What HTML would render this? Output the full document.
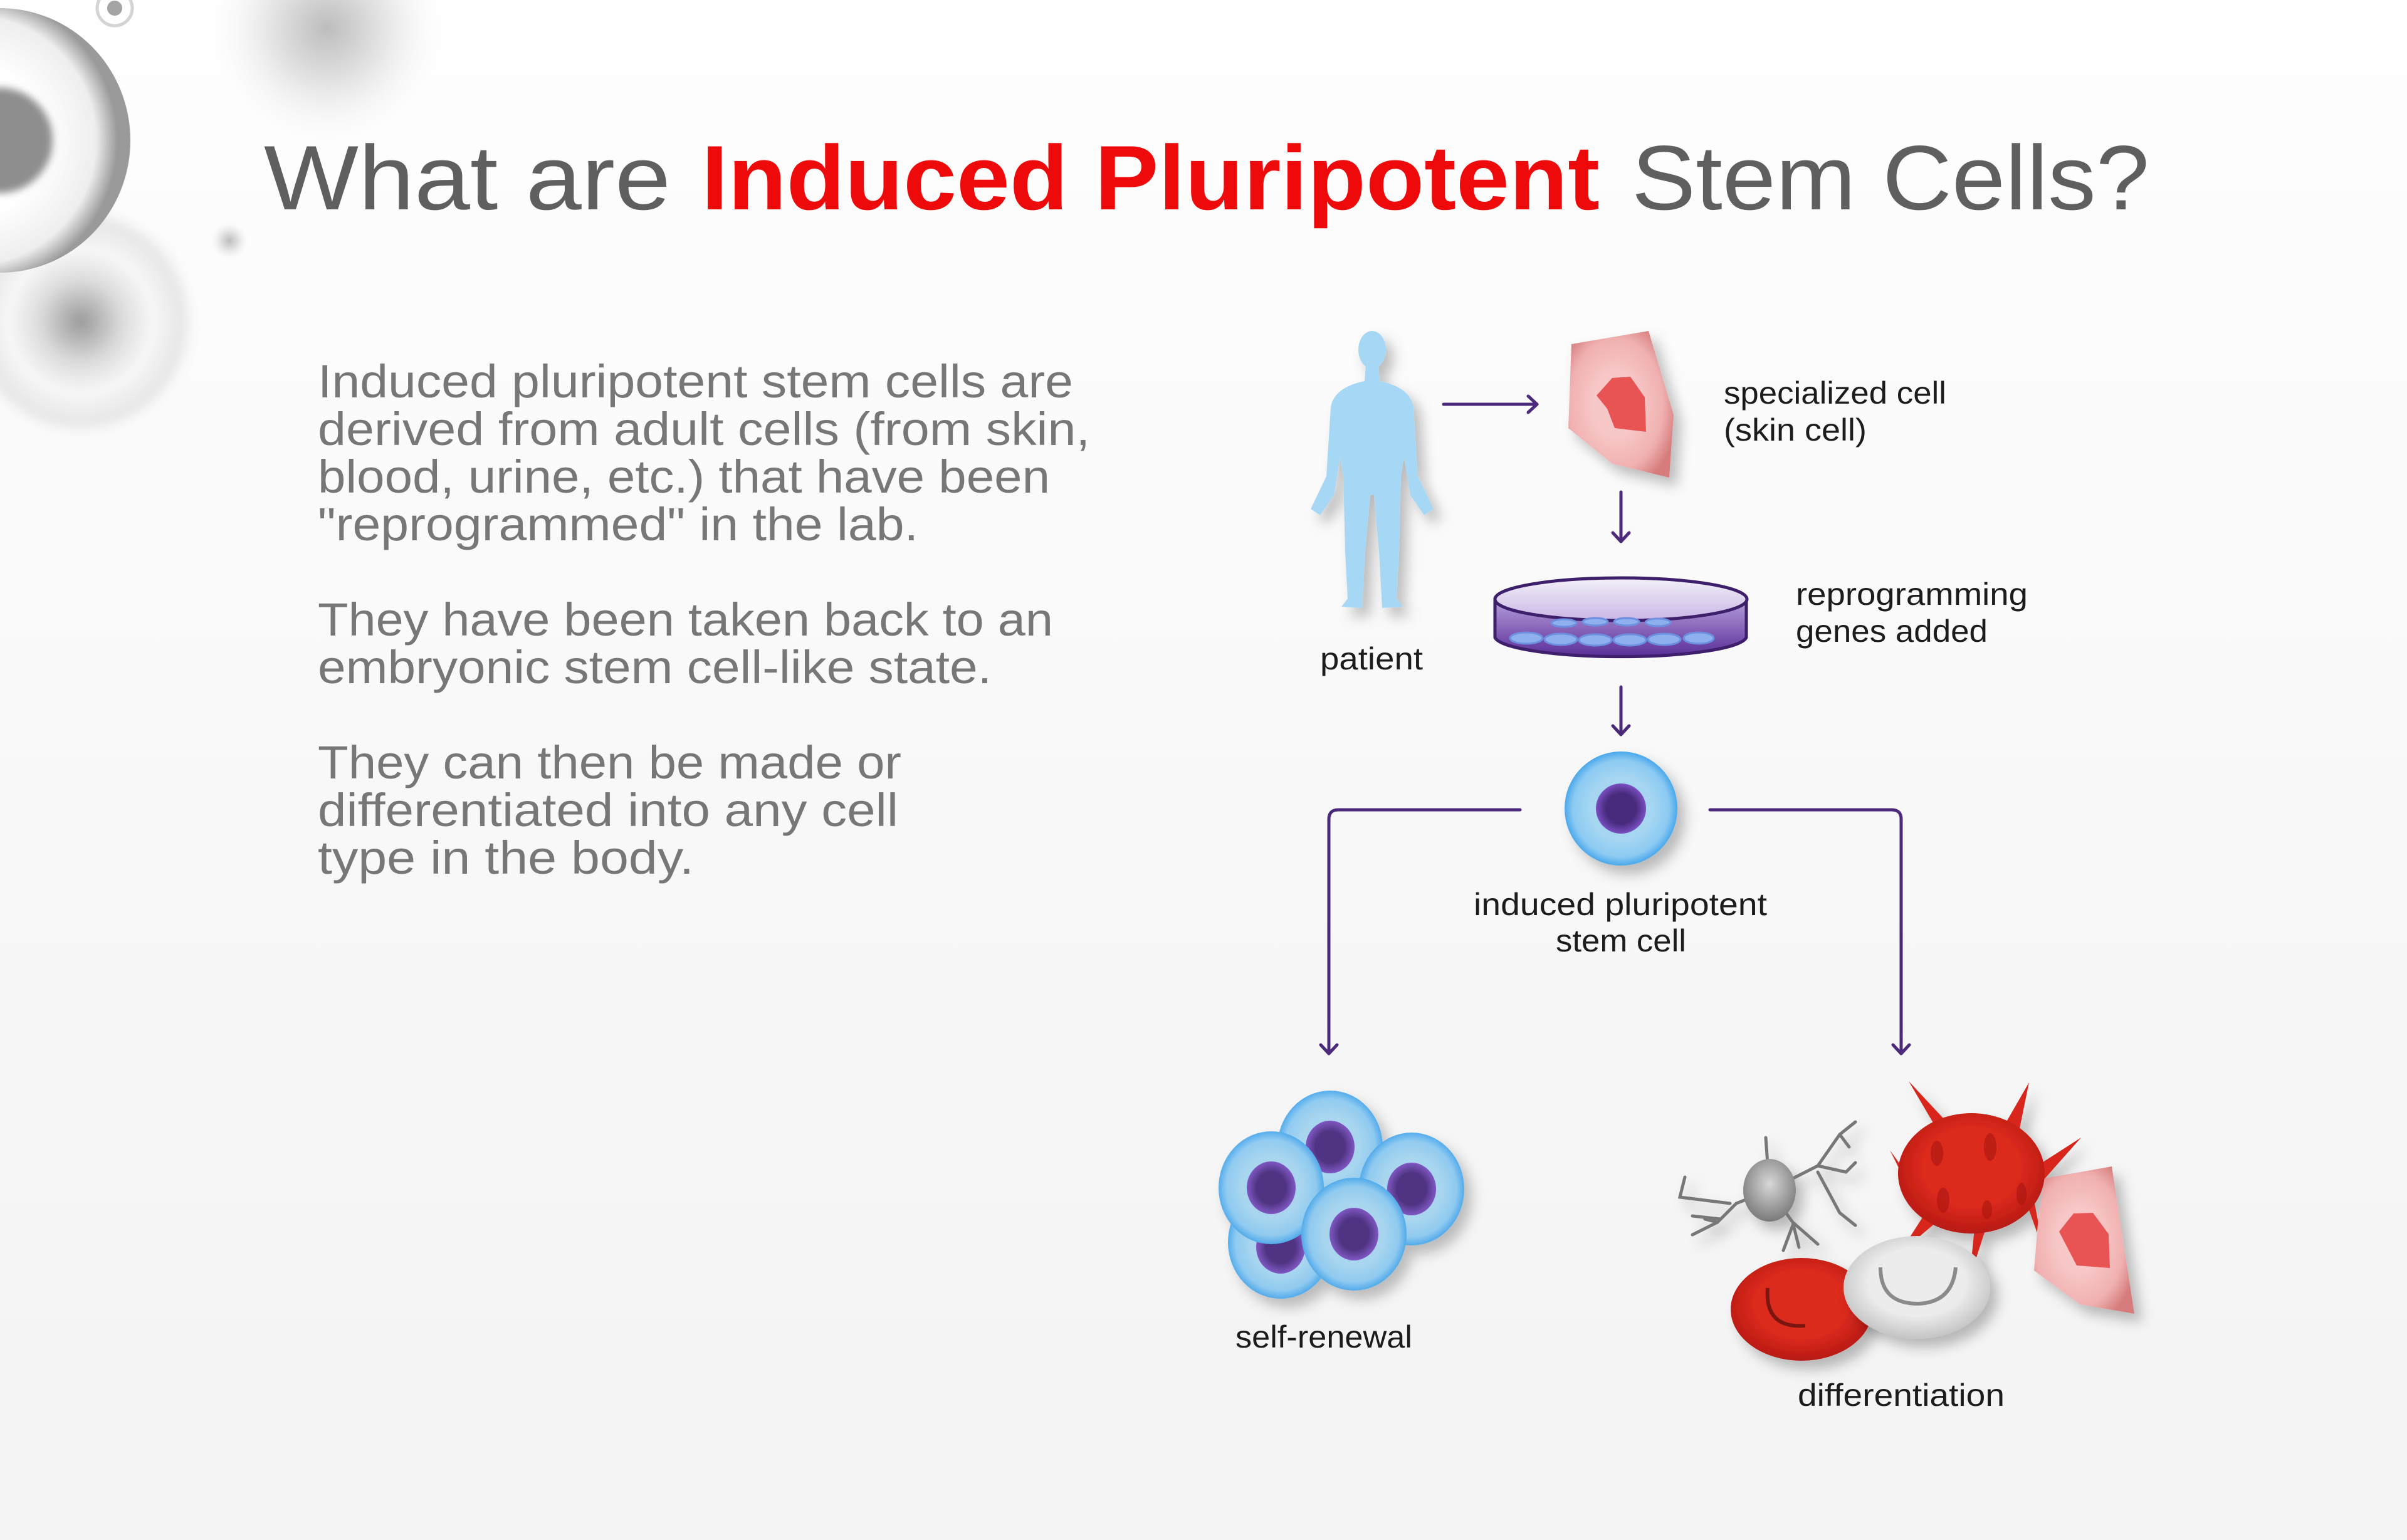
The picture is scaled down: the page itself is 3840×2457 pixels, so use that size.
<!DOCTYPE html>
<html><head><meta charset="utf-8"><style>
html,body{margin:0;padding:0;}
body{width:3840px;height:2457px;overflow:hidden;}
svg{display:block;}
text{font-family:"Liberation Sans",sans-serif;}
</style></head><body>
<svg width="3840" height="2457" viewBox="0 0 3840 2457" xmlns="http://www.w3.org/2000/svg">
<defs>
<linearGradient id="bg" x1="0" y1="0" x2="0" y2="1"><stop offset="0" stop-color="#fefefe"/><stop offset="1" stop-color="#f3f3f3"/></linearGradient>
<filter id="blur20" x="-50%" y="-50%" width="200%" height="200%"><feGaussianBlur stdDeviation="20"/></filter>
<filter id="blur6" x="-50%" y="-50%" width="200%" height="200%"><feGaussianBlur stdDeviation="6"/></filter>
<filter id="sh" x="-30%" y="-30%" width="170%" height="170%"><feDropShadow dx="12" dy="14" stdDeviation="10" flood-color="#000" flood-opacity="0.25"/></filter>
<radialGradient id="bigcell" cx="0.4" cy="0.5" r="0.55"><stop offset="0.5" stop-color="#ffffff"/><stop offset="0.85" stop-color="#eeeeee"/><stop offset="1" stop-color="#9a9a9a"/></radialGradient>
<radialGradient id="blurcell" cx="0.5" cy="0.5" r="0.5"><stop offset="0" stop-color="#9a9a9a"/><stop offset="0.35" stop-color="#dcdcdc"/><stop offset="0.6" stop-color="#f7f7f7"/><stop offset="0.85" stop-color="#e6e6e6"/><stop offset="1" stop-color="#fafafa" stop-opacity="0"/></radialGradient>
<radialGradient id="spot" cx="0.5" cy="0.5" r="0.5"><stop offset="0" stop-color="#bdbdbd"/><stop offset="0.5" stop-color="#e4e4e4"/><stop offset="1" stop-color="#f5f5f5" stop-opacity="0"/></radialGradient>
<radialGradient id="skin" cx="0.45" cy="0.5" r="0.6"><stop offset="0.35" stop-color="#f8c8c8"/><stop offset="0.75" stop-color="#f0b0b0"/><stop offset="1" stop-color="#d67c7c"/></radialGradient>
<radialGradient id="blue" cx="0.5" cy="0.5" r="0.5"><stop offset="0.55" stop-color="#a6d6f2"/><stop offset="0.85" stop-color="#8ccaf2"/><stop offset="1" stop-color="#4aa8ec"/></radialGradient>
<radialGradient id="nuc" cx="0.5" cy="0.5" r="0.5"><stop offset="0.6" stop-color="#472a7c"/><stop offset="1" stop-color="#7a4fc2"/></radialGradient>
<radialGradient id="red" cx="0.5" cy="0.45" r="0.55"><stop offset="0.6" stop-color="#dc2a1e"/><stop offset="1" stop-color="#b81912"/></radialGradient>
<radialGradient id="white" cx="0.5" cy="0.45" r="0.55"><stop offset="0.6" stop-color="#ececec"/><stop offset="1" stop-color="#c4c4c4"/></radialGradient>
<radialGradient id="gray" cx="0.5" cy="0.4" r="0.6"><stop offset="0" stop-color="#d8d8d8"/><stop offset="1" stop-color="#7a7a7a"/></radialGradient>
<linearGradient id="dishtop" x1="0" y1="0" x2="0" y2="1"><stop offset="0" stop-color="#f3f0f8"/><stop offset="1" stop-color="#c9b6e6"/></linearGradient>
<linearGradient id="dishbot" x1="0" y1="0" x2="0" y2="1"><stop offset="0" stop-color="#b7a0dc"/><stop offset="1" stop-color="#5a2d98"/></linearGradient>
</defs>
<rect width="3840" height="2457" fill="url(#bg)"/>
<circle cx="129" cy="513" r="190" fill="url(#blurcell)" filter="url(#blur6)"/>
<circle cx="522" cy="45" r="180" fill="url(#spot)"/>
<circle cx="366" cy="384" r="30" fill="url(#spot)"/>
<ellipse cx="0" cy="224" rx="208" ry="211" fill="url(#bigcell)"/>
<circle cx="0" cy="224" r="84" fill="#8e8e8e" filter="url(#blur6)"/>
<circle cx="183" cy="13" r="28" fill="none" stroke="#d4d4d4" stroke-width="5"/>
<circle cx="183" cy="13" r="12" fill="#a4a4a4"/>
<text y="334" font-size="146" fill="#5f5f5f"><tspan x="421" textLength="649" lengthAdjust="spacingAndGlyphs">What are</tspan></text>
<text y="334" font-size="146" font-weight="bold" fill="#ee0a0a" x="1119" textLength="1433" lengthAdjust="spacingAndGlyphs">Induced Pluripotent</text>
<text y="334" font-size="146" fill="#5f5f5f" x="2603" textLength="826" lengthAdjust="spacingAndGlyphs">Stem Cells?</text>
<g font-size="74" fill="#777777">
<text x="507" y="634" textLength="1205" lengthAdjust="spacingAndGlyphs">Induced pluripotent stem cells are</text>
<text x="507" y="710" textLength="1232" lengthAdjust="spacingAndGlyphs">derived from adult cells (from skin,</text>
<text x="507" y="786" textLength="1168" lengthAdjust="spacingAndGlyphs">blood, urine, etc.) that have been</text>
<text x="507" y="862" textLength="958" lengthAdjust="spacingAndGlyphs">"reprogrammed" in the lab.</text>
<text x="507" y="1014" textLength="1173" lengthAdjust="spacingAndGlyphs">They have been taken back to an</text>
<text x="507" y="1090" textLength="1075" lengthAdjust="spacingAndGlyphs">embryonic stem cell-like state.</text>
<text x="507" y="1242" textLength="931" lengthAdjust="spacingAndGlyphs">They can then be made or</text>
<text x="507" y="1318" textLength="926" lengthAdjust="spacingAndGlyphs">differentiated into any cell</text>
<text x="507" y="1394" textLength="600" lengthAdjust="spacingAndGlyphs">type in the body.</text>
</g>
<g font-size="50" fill="#1c1c1c">
<text x="2750" y="644" textLength="355" lengthAdjust="spacingAndGlyphs">specialized cell</text>
<text x="2750" y="703" textLength="228" lengthAdjust="spacingAndGlyphs">(skin cell)</text>
<text x="2865" y="965" textLength="370" lengthAdjust="spacingAndGlyphs">reprogramming</text>
<text x="2865" y="1024" textLength="306" lengthAdjust="spacingAndGlyphs">genes added</text>
<text x="2106" y="1068" textLength="164" lengthAdjust="spacingAndGlyphs">patient</text>
<text x="2351" y="1460" textLength="468" lengthAdjust="spacingAndGlyphs">induced pluripotent</text>
<text x="2482" y="1518" textLength="208" lengthAdjust="spacingAndGlyphs">stem cell</text>
<text x="1971" y="2150" textLength="282" lengthAdjust="spacingAndGlyphs">self-renewal</text>
<text x="2868" y="2243" textLength="330" lengthAdjust="spacingAndGlyphs">differentiation</text>
</g>
<g stroke="#4b2a7b" stroke-width="5" fill="none" stroke-linecap="round" stroke-linejoin="round">
<line x1="2303" y1="645" x2="2452" y2="645"/><polyline points="2438,632 2452,645 2438,658"/>
<line x1="2586" y1="785" x2="2586" y2="864"/><polyline points="2573,850 2586,864 2599,850"/>
<line x1="2586" y1="1096" x2="2586" y2="1172"/><polyline points="2573,1158 2586,1172 2599,1158"/>
<path d="M2425,1292 H2135 Q2120,1292 2120,1307 V1681"/><polyline points="2107,1667 2120,1681 2133,1667"/>
<path d="M2728,1292 H3018 Q3033,1292 3033,1307 V1681"/><polyline points="3020,1667 3033,1681 3046,1667"/>
</g>
<g fill="#a6d8f5" filter="url(#sh)">
<ellipse cx="2189" cy="558" rx="22" ry="30"/>
<path d="M2179,582 L2199,582 L2201,608 Q2250,618 2255,650 L2262,760 L2287,812 L2272,822 L2250,790 L2240,730 L2235,760 L2232,880 L2228,955 L2238,968 L2205,970 L2200,880 L2192,790 L2186,790 L2178,880 L2173,970 L2140,968 L2150,955 L2146,880 L2143,760 L2138,730 L2128,790 L2106,822 L2091,812 L2116,760 L2123,650 Q2128,618 2177,608 Z"/>
</g>
<g filter="url(#sh)">
<polygon points="2507,549 2630,528 2670,662 2663,762 2572,740 2502,683" fill="url(#skin)"/>
</g>
<polygon points="2547,631 2572,603 2601,601 2624,634 2626,689 2576,683 2564,652" fill="#e85454"/>
<g stroke="#3d1f6b" stroke-width="5">
<path d="M2385,956 V1017 A201,33 0 0 0 2786,1017 V956 Z" fill="url(#dishbot)"/>
<ellipse cx="2586" cy="956" rx="201" ry="34" fill="url(#dishtop)"/>
</g>
<g fill="#8fb0ee" stroke="#6d8fe0" stroke-width="3">
<ellipse cx="2435" cy="1018" rx="26" ry="9"/><ellipse cx="2490" cy="1020" rx="26" ry="9"/><ellipse cx="2545" cy="1021" rx="26" ry="9"/><ellipse cx="2600" cy="1021" rx="26" ry="9"/><ellipse cx="2655" cy="1020" rx="26" ry="9"/><ellipse cx="2710" cy="1018" rx="24" ry="9"/>
<ellipse cx="2495" cy="994" rx="20" ry="6"/><ellipse cx="2545" cy="992" rx="20" ry="6"/><ellipse cx="2595" cy="992" rx="20" ry="6"/><ellipse cx="2645" cy="993" rx="20" ry="6"/>
</g>
<ellipse cx="2586" cy="1290" rx="90" ry="91" fill="url(#blue)" filter="url(#sh)"/>
<circle cx="2586" cy="1290" r="40" fill="url(#nuc)"/>
<g filter="url(#sh)">
<g opacity="0.93">
<ellipse cx="2122" cy="1830" rx="84" ry="90" fill="url(#blue)"/><ellipse cx="2122" cy="1830" rx="39" ry="42" fill="url(#nuc)"/>
<ellipse cx="2043" cy="1982" rx="84" ry="90" fill="url(#blue)"/><ellipse cx="2043" cy="1990" rx="39" ry="42" fill="url(#nuc)"/>
<ellipse cx="2252" cy="1897" rx="84" ry="90" fill="url(#blue)"/><ellipse cx="2252" cy="1897" rx="39" ry="42" fill="url(#nuc)"/>
<ellipse cx="2028" cy="1895" rx="84" ry="90" fill="url(#blue)"/><ellipse cx="2028" cy="1895" rx="39" ry="42" fill="url(#nuc)"/>
<ellipse cx="2160" cy="1969" rx="84" ry="90" fill="url(#blue)"/><ellipse cx="2160" cy="1969" rx="39" ry="42" fill="url(#nuc)"/>
</g>
</g>
<g filter="url(#sh)">
<g stroke="#777" stroke-width="5" fill="none" stroke-linecap="round">
<path d="M2823,1899 L2817,1815 M2823,1899 L2900,1860 L2935,1810 L2960,1790 M2935,1810 L2950,1830 M2900,1860 L2945,1870 L2960,1855 M2900,1870 L2935,1935 L2960,1955 M2823,1899 L2770,1920 L2740,1950 L2720,1945 M2745,1945 L2700,1940 M2740,1950 L2700,1970 M2760,1920 L2680,1910 L2688,1878 M2823,1899 L2860,1950 L2870,1990 M2860,1950 L2900,1985 M2860,1955 L2845,1995"/>
</g>
<ellipse cx="2823" cy="1899" rx="42" ry="50" fill="url(#gray)"/>
</g>
<g filter="url(#sh)" fill="#d8251b">
<polygon points="3195,1800 3237,1727 3220,1810"/>
<polygon points="3095,1810 3045,1725 3115,1800"/>
<polygon points="3250,1860 3320,1815 3258,1885"/>
<polygon points="3040,1870 3015,1835 3045,1895"/>
<polygon points="3075,1930 3030,2000 3095,1945"/>
<polygon points="3150,1960 3142,2040 3168,1960"/>
<polygon points="3235,1925 3260,1995 3245,1915"/>
<ellipse cx="3145" cy="1872" rx="117" ry="96" fill="url(#red)"/>
</g>
<g fill="#a8160f" opacity="0.6">
<ellipse cx="3090" cy="1840" rx="10" ry="20"/><ellipse cx="3175" cy="1830" rx="10" ry="22"/><ellipse cx="3100" cy="1915" rx="10" ry="20"/><ellipse cx="3170" cy="1930" rx="8" ry="15"/><ellipse cx="3225" cy="1905" rx="8" ry="18"/>
</g>
<g filter="url(#sh)">
<polygon points="3262,1880 3369,1861 3405,2096 3318,2081 3245,2027 3252,1940" fill="url(#skin)"/>
</g>
<polygon points="3308,1936 3339,1935 3364,1969 3366,2023 3313,2019 3285,1965" fill="#e85454"/>
<g filter="url(#sh)">
<ellipse cx="2874" cy="2089" rx="113" ry="82" fill="url(#red)"/>
</g>
<path d="M2820,2055 Q2815,2120 2880,2115" stroke="#7a1510" stroke-width="6" fill="none"/>
<g filter="url(#sh)">
<ellipse cx="3058" cy="2054" rx="117" ry="82" fill="url(#white)"/>
</g>
<path d="M3000,2022 Q3000,2080 3060,2080 Q3115,2078 3120,2022" stroke="#8a8a8a" stroke-width="6" fill="none"/>
</svg>
</body></html>
